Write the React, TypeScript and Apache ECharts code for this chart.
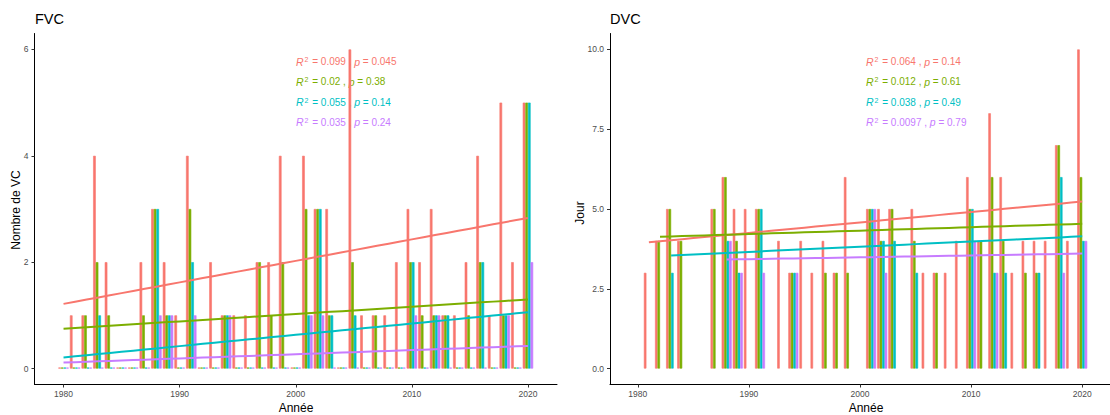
import React, { useEffect, useRef } from "react";
import * as echarts from "echarts";

// Axis categories (years) — the plot spans 1977.5 .. 2022.5
const firstCat = 1978;
const lastCat = 2022;
const categories: string[] = [];
for (let y = firstCat; y <= lastCat; y++) categories.push(String(y));

// Data years 1980..2020
const dataStart = 1980;

const seriesNames = ["A", "B", "C", "D"];
const colors = ["#F8766D", "#7CAE00", "#00BFC4", "#C77CFF"];

// FVC: number of cold waves per year (1980..2020)
const fvcRed = [0, 1, 1, 4, 2, 0, 0, 2, 3, 2, 1, 4, 0, 2, 1, 1, 1, 2, 2, 4, 0, 4, 3, 3, 0, 6, 1, 1, 1, 2, 3, 2, 3, 1, 1, 2, 4, 1, 5, 2, 5];
const fvcGreen = [0, 0, 1, 2, 1, 0, 0, 1, 3, 1, 0, 3, 0, 0, 1, 0, 0, 2, 1, 2, 0, 3, 3, 1, 0, 2, 0, 1, 0, 0, 2, 1, 1, 1, 0, 1, 2, 0, 1, 0, 5];
const fvcCyan = [0, 0, 0, 1, 0, 0, 0, 0, 3, 1, 0, 2, 0, 0, 1, 0, 0, 0, 0, 0, 0, 1, 3, 1, 0, 1, 0, 0, 0, 0, 2, 0, 1, 1, 0, 0, 2, 0, 1, 0, 5];
const fvcPurple = [0, 0, 0, 0, 0, 0, 0, 0, 1, 1, 0, 1, 0, 0, 1, 0, 0, 0, 0, 0, 0, 1, 1, 0, 0, 0, 0, 0, 0, 0, 1, 0, 1, 0, 0, 0, 0, 0, 1, 0, 2];

// DVC: duration (days) per year (1980..2020), null when no event
const n = null;
const dvcRed = [n, 3, 4, 5, 4, n, n, 5, 6, 5, 5, 5, n, 4, 3, 4, 3, 4, 3, 6, n, 5, 5, 5, n, 5, 3, 3, 3, 4, 6, 4, 8, 6, 3, 4, 4, 4, 7, 4, 10];
const dvcGreen = [n, n, 4, 5, 4, n, n, 5, 6, 4, n, 5, n, n, 3, n, n, 3, 3, 3, n, 5, 4, 5, n, 4, n, 3, n, n, 5, 4, 6, 4, n, 3, 3, n, 7, n, 6];
const dvcCyan = [n, n, n, 3, n, n, n, n, 4, 3, n, 5, n, n, 3, n, n, n, n, n, n, 5, 4, 4, n, 3, n, n, n, n, 5, n, 3, 3, n, n, 3, n, 6, n, 4];
const dvcPurple = [n, n, n, n, n, n, n, n, 4, 3, n, 3, n, n, 3, n, n, n, n, n, n, 5, 3, n, n, n, n, n, n, n, 4, n, 3, n, n, n, n, n, 3, n, 4];

// Annotation values
const fvcR2 = ["0.099", "0.02", "0.055", "0.035"];
const fvcP = ["0.045", "0.38", "0.14", "0.24"];
const dvcR2 = ["0.064", "0.012", "0.038", "0.0097"];
const dvcP = ["0.14", "0.61", "0.49", "0.79"];

const fvcTicks = [0, 2, 4, 6];
const dvcTicks = [0, 2.5, 5, 7.5, 10];
const xTickYears = [1980, 1990, 2000, 2010, 2020];

const FONT = "Liberation Sans, Arial, sans-serif";

function pad(vals: (number | null)[]) {
  const out: (number | null)[] = [];
  for (let y = firstCat; y <= lastCat; y++) {
    const i = y - dataStart;
    out.push(i >= 0 && i < vals.length ? vals[i] : null);
  }
  return out;
}

function regressionLine(vals: (number | null)[]) {
  const xs: number[] = [];
  const ys: number[] = [];
  vals.forEach((v, i) => {
    if (v !== null && v !== undefined) {
      xs.push(dataStart + i);
      ys.push(v);
    }
  });
  const m = xs.length;
  const mx = xs.reduce((a, b) => a + b, 0) / m;
  const my = ys.reduce((a, b) => a + b, 0) / m;
  let sxy = 0,
    sxx = 0;
  for (let k = 0; k < m; k++) {
    sxy += (xs[k] - mx) * (ys[k] - my);
    sxx += (xs[k] - mx) * (xs[k] - mx);
  }
  const b = sxy / sxx;
  const a = my - b * mx;
  const x0 = Math.min(...xs);
  const x1 = Math.max(...xs);
  const out: (number | null)[] = [];
  for (let y = firstCat; y <= lastCat; y++) {
    out.push(y >= x0 && y <= x1 ? a + b * y : null);
  }
  return out;
}

const isTickYear = (_idx: number, value: string) => xTickYears.indexOf(Number(value)) >= 0;

function makeAxes(gridIndex: number, yMin: number, yMax: number, ticks: number[], decimals: number) {
  const xAxis = {
    type: "category",
    gridIndex,
    data: categories,
    boundaryGap: true,
    axisLine: { show: true, onZero: false, lineStyle: { color: "#000", width: 1 } },
    axisTick: { show: true, alignWithLabel: true, interval: isTickYear, length: 3, lineStyle: { color: "#333" } },
    axisLabel: { interval: isTickYear, color: "#4D4D4D", fontSize: 8.5, fontFamily: FONT, margin: 5 },
    splitLine: { show: false },
  };
  const yAxis = {
    type: "value",
    gridIndex,
    min: yMin,
    max: yMax,
    axisLine: { show: true, onZero: false, lineStyle: { color: "#000", width: 1 } },
    axisTick: { show: true, length: 3, customValues: ticks, lineStyle: { color: "#333" } },
    axisLabel: {
      customValues: ticks,
      color: "#4D4D4D",
      fontSize: 8.5,
      fontFamily: FONT,
      margin: 6,
      formatter: (v: number) => v.toFixed(decimals),
    },
    splitLine: { show: false },
  };
  return { xAxis, yAxis };
}

function makeSeries(idx: number, sets: (number | null)[][], minH: number) {
  const bars = sets.map((vals, k) => ({
    type: "bar",
    name: seriesNames[k] + idx,
    xAxisIndex: idx,
    yAxisIndex: idx,
    data: pad(vals),
    barGap: "0%",
    barCategoryGap: "10%",
    barMinHeight: minH,
    itemStyle: { color: colors[k], borderColor: colors[k], borderWidth: 0.6 },
    z: 2,
  }));
  const lines = sets.map((vals, k) => ({
    type: "line",
    name: seriesNames[k] + idx + "fit",
    xAxisIndex: idx,
    yAxisIndex: idx,
    data: regressionLine(vals),
    showSymbol: false,
    symbol: "none",
    lineStyle: { color: colors[k], width: 2 },
    z: 3,
  }));
  return [...bars, ...lines];
}

function annotation(x: number, r2: string[], p: string[]) {
  return r2.map((r, k) => ({
    type: "text",
    left: x,
    top: 56 + k * 20.3,
    z: 0,
    style: {
      text: "{i|R}{s|2} = " + r + " , {i|p} = " + p[k],
      fill: colors[k],
      font: "10px " + FONT,
      rich: {
        i: { fontStyle: "italic", fill: colors[k], fontSize: 10.5, fontFamily: FONT },
        s: { fill: colors[k], fontSize: 7, fontFamily: FONT, verticalAlign: "top", padding: [0, 1, 0, 1] },
      },
    },
  }));
}

export default function App() {
  const ref = useRef<HTMLDivElement>(null);
  useEffect(() => {
    if (!ref.current) return;
    const chart = echarts.init(ref.current, null, { renderer: "svg" });
    const a0 = makeAxes(0, -0.3, 6.3, fvcTicks, 0);
    const a1 = makeAxes(1, -0.5, 10.5, dvcTicks, 1);
    chart.setOption({
      animation: false,
      backgroundColor: "#fff",
      grid: [
        { left: 34.5, top: 33.5, width: 522.5, height: 351, containLabel: false },
        { left: 610, top: 33.5, width: 512, height: 351, containLabel: false },
      ],
      xAxis: [a0.xAxis, a1.xAxis],
      yAxis: [a0.yAxis, a1.yAxis],
      series: [
        ...makeSeries(0, [fvcRed, fvcGreen, fvcCyan, fvcPurple], 1),
        ...makeSeries(1, [dvcRed, dvcGreen, dvcCyan, dvcPurple], 0),
      ],
      graphic: [
        { type: "text", left: 35, top: 11, style: { text: "FVC", fill: "#000", font: "14.5px " + FONT } },
        { type: "text", left: 610, top: 11, style: { text: "DVC", fill: "#000", font: "14.5px " + FONT } },
        {
          type: "text",
          x: 16,
          y: 210,
          rotation: Math.PI / 2,
          style: { text: "Nombre de VC", fill: "#000", font: "12px " + FONT, align: "center", verticalAlign: "middle" },
        },
        {
          type: "text",
          x: 580,
          y: 213,
          rotation: Math.PI / 2,
          style: { text: "Jour", fill: "#000", font: "12px " + FONT, align: "center", verticalAlign: "middle" },
        },
        {
          type: "text",
          x: 296,
          y: 408,
          style: { text: "Année", fill: "#000", font: "12px " + FONT, align: "center", verticalAlign: "middle" },
        },
        {
          type: "text",
          x: 866,
          y: 408,
          style: { text: "Année", fill: "#000", font: "12px " + FONT, align: "center", verticalAlign: "middle" },
        },
        ...annotation(296, fvcR2, fvcP),
        ...annotation(866, dvcR2, dvcP),
      ],
    });
    return () => chart.dispose();
  }, []);
  return (
    <div
      ref={ref}
      style={{ position: "fixed", left: 0, top: 0, width: 1110, height: 415 }}
    />
  );
}
